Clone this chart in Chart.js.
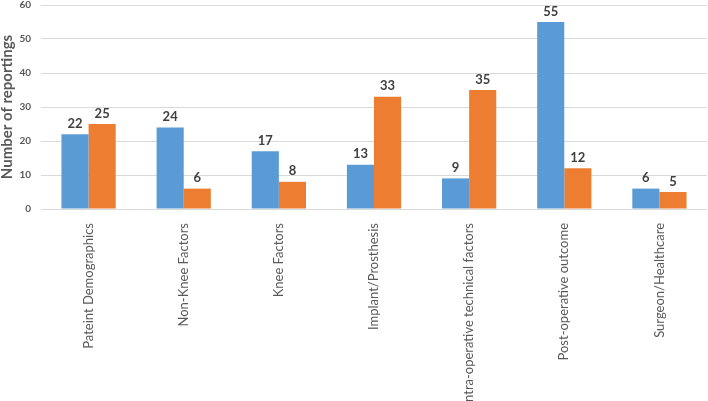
<!DOCTYPE html>
<html><head><meta charset="utf-8">
<script src="https://cdn.jsdelivr.net/npm/chart.js@4/dist/chart.umd.min.js"></script>
<style>html,body{margin:0;padding:0;background:#fff}#w{width:708px;height:401px}</style>
</head><body><div id="w"><canvas id="c"></canvas></div>
<script>
const categories = ["Pateint Demographics","Non-Knee Factors","Knee Factors","Implant/Prosthesis","Intra-operative technical factors","Post-operative outcome","Surgeon/Healthcare"];
const seriesA = [22,24,17,13,9,55,6];
const seriesB = [25,6,8,33,35,12,5];
const yTicks = [0,10,20,30,40,50,60];

const labelPlugin = {
  id:'vals',
  afterDatasetsDraw(chart){
    const ctx = chart.ctx;
    ctx.save();
    ctx.font = 'bold 13px Lato';
    ctx.fillStyle = '#404040';
    ctx.textAlign = 'center';
    ctx.textBaseline = 'bottom';
    chart.data.datasets.forEach((ds,i)=>{
      chart.getDatasetMeta(i).data.forEach((el,j)=>{
        ctx.fillText(ds.data[j], el.x, el.y - 4);
      });
    });
    ctx.restore();
  }
};

new Chart(document.getElementById('c'),{
  type:'bar',
  data:{labels:categories,datasets:[
    {data:seriesA,backgroundColor:'#5B9BD5',barPercentage:1,categoryPercentage:0.57},
    {data:seriesB,backgroundColor:'#ED7D31',barPercentage:1,categoryPercentage:0.57}
  ]},
  options:{
    responsive:true,maintainAspectRatio:false,animation:false,
    layout:{padding:{top:5,right:1,left:0,bottom:0}},
    plugins:{legend:{display:false},tooltip:{enabled:false}},
    scales:{
      x:{
        grid:{display:false},
        border:{display:false},
        ticks:{minRotation:90,maxRotation:90,autoSkip:false,padding:6,color:'#595959',font:{family:'Lato',size:13}},
        afterFit(s){s.height=192;s.paddingLeft=0;s.paddingRight=0;s.paddingTop=0;s.paddingBottom=0;}
      },
      y:{
        min:0,max:60,
        afterBuildTicks(s){s.ticks=yTicks.map(v=>({value:v}));},
        grid:{color:'#d9d9d9',drawTicks:false},
        border:{display:false},
        ticks:{padding:10,color:'#595959',font:{family:'Lato',size:10,weight:'bold'}},
        title:{display:true,text:'Number of reportings',color:'#595959',font:{family:'Lato',size:15,weight:'bold',lineHeight:1},padding:{top:0,bottom:0}},
        afterFit(s){s.width=41;s.paddingTop=0;s.paddingBottom=0;}
      }
    }
  },
  plugins:[labelPlugin]
});
</script></body></html>
